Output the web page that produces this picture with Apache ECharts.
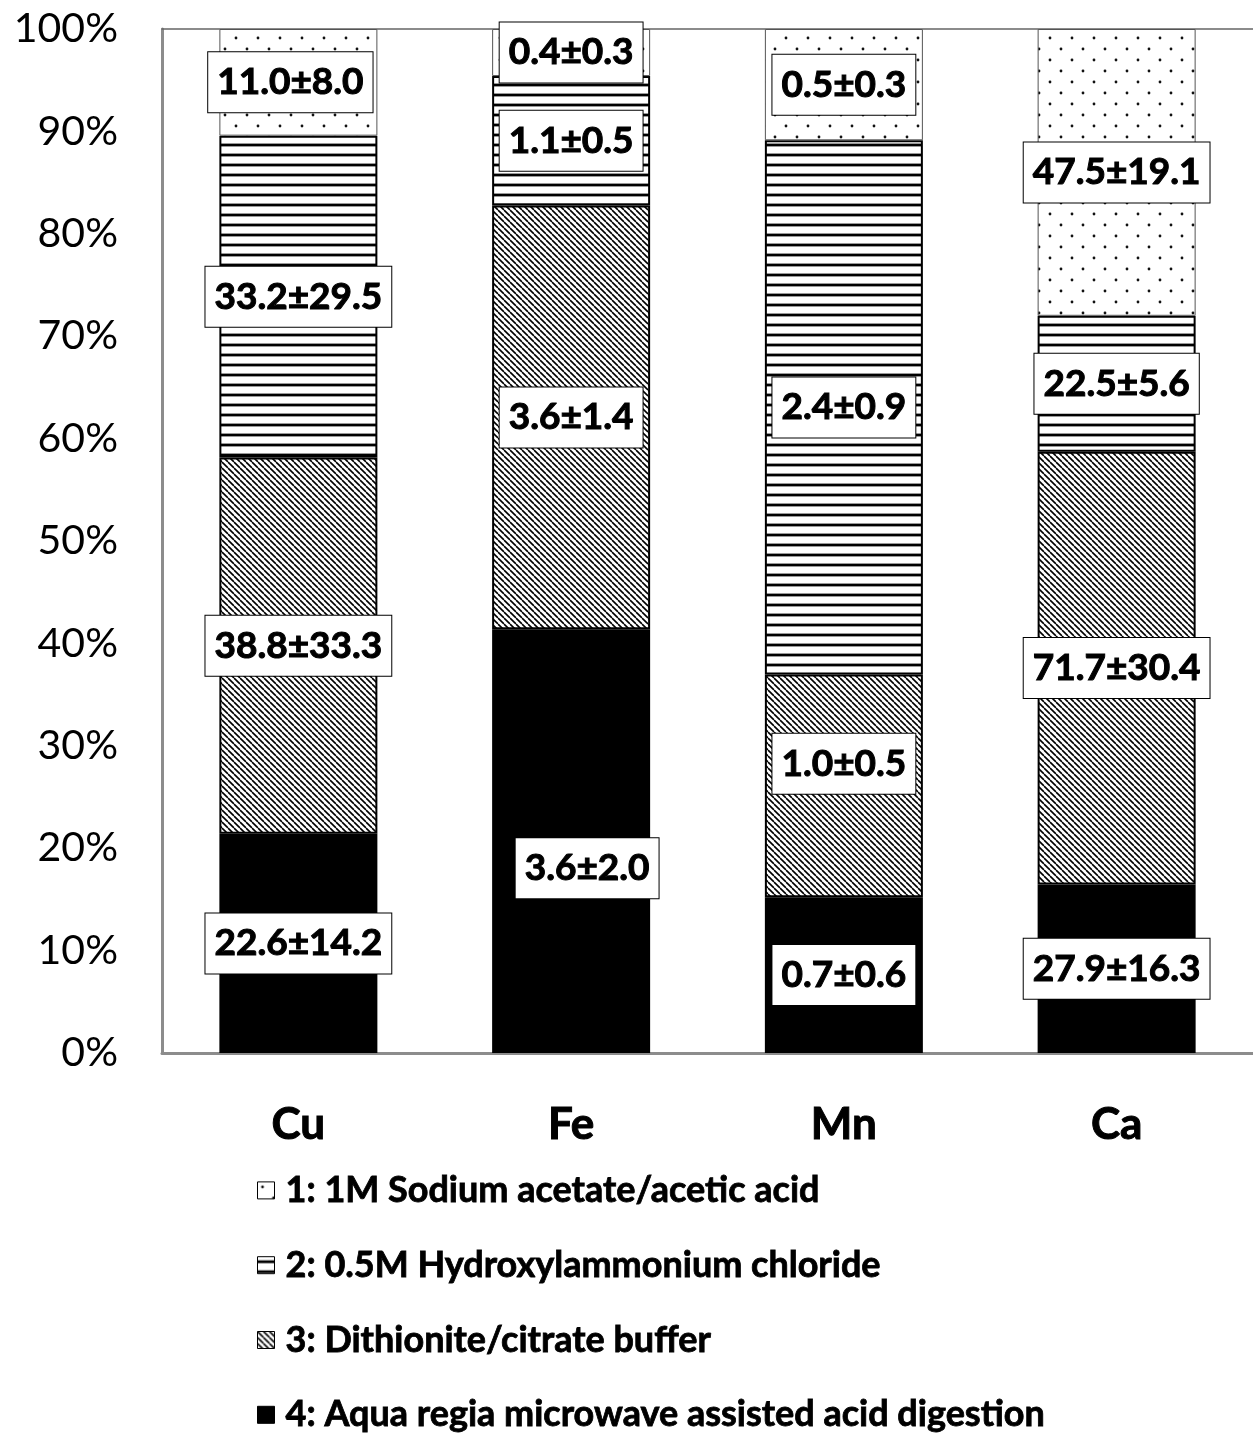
<!DOCTYPE html>
<html>
<head>
<meta charset="utf-8">
<script src="https://cdn.jsdelivr.net/npm/echarts@6/dist/echarts.min.js"></script>
<style>
  html, body { margin: 0; padding: 0; background: #fff; }
  #chart { width: 1253px; height: 1435px; }
</style>
</head>
<body>
<div id="chart"></div>
<script>
// Sequential extraction of metals: mean ± SD per fraction
const elements = ['Cu', 'Fe', 'Mn', 'Ca'];
const fractionNames = [
  '1: 1M Sodium acetate/acetic acid',
  '2: 0.5M Hydroxylammonium chloride',
  '3: Dithionite/citrate buffer',
  '4: Aqua regia microwave assisted acid digestion'
];
const f1Mean = [11.0, 0.4, 0.5, 47.5];
const f1Sd   = [8.0, 0.3, 0.3, 19.1];
const f2Mean = [33.2, 1.1, 2.4, 22.5];
const f2Sd   = [29.5, 0.5, 0.9, 5.6];
const f3Mean = [38.8, 3.6, 1.0, 71.7];
const f3Sd   = [33.3, 1.4, 0.5, 30.4];
const f4Mean = [22.6, 3.6, 0.7, 27.9];
const f4Sd   = [14.2, 2.0, 0.6, 16.3];
const yTicks = [0, 10, 20, 30, 40, 50, 60, 70, 80, 90, 100];

const FONT = 'Lato';

// ---- fill patterns ----
function makeTile(w, h, draw) {
  const c = document.createElement('canvas');
  c.width = w; c.height = h;
  const ctx = c.getContext('2d');
  ctx.fillStyle = '#fff';
  ctx.fillRect(0, 0, w, h);
  draw(ctx);
  return c;
}
const dotTile = makeTile(22, 22, ctx => {
  ctx.fillStyle = '#111';
  ctx.beginPath(); ctx.arc(5, 5, 1.4, 0, Math.PI * 2); ctx.fill();
  ctx.beginPath(); ctx.arc(16, 16, 1.4, 0, Math.PI * 2); ctx.fill();
});
const hLineTile = makeTile(10, 10, ctx => {
  ctx.fillStyle = '#999';
  ctx.fillRect(0, 3, 10, 4);
  ctx.fillStyle = '#000';
  ctx.fillRect(0, 4, 10, 2);
});
const diagTile = makeTile(6, 6, ctx => {
  ctx.strokeStyle = '#000';
  ctx.lineWidth = 1.6;
  for (let x = -6; x <= 12; x += 6) {
    ctx.beginPath(); ctx.moveTo(x - 6, 0); ctx.lineTo(x, 6); ctx.stroke();
  }
});

const fills = [
  { image: dotTile, repeat: 'repeat' },
  { image: hLineTile, repeat: 'repeat' },
  { image: diagTile, repeat: 'repeat' },
  '#000'
];
const borders = [
  { borderColor: '#555', borderWidth: 1 },
  { borderColor: '#000', borderWidth: 2 },
  { borderColor: '#000', borderWidth: 2 },
  { borderColor: '#000', borderWidth: 0 }
];

const means = [f1Mean, f2Mean, f3Mean, f4Mean];
const sds = [f1Sd, f2Sd, f3Sd, f4Sd];
const totals = elements.map((_, i) => means.reduce((s, m) => s + m[i], 0));

// label nudges [fraction][element]
const labelOffsets = {
  '0-0': [-8, 0],
  '3-1': [16, 27],
  '2-2': [0, -22]
};

function buildSeries(k) {
  return {
    name: fractionNames[k],
    type: 'bar',
    stack: 'total',
    barWidth: 158,
    itemStyle: Object.assign({ color: fills[k] }, borders[k]),
    label: {
      show: true,
      position: 'inside',
      fontFamily: FONT,
      fontWeight: 'bold',
      fontSize: 37,
      color: '#000',
      textBorderColor: '#000',
      textBorderWidth: 1,
      backgroundColor: '#fff',
      borderColor: '#000',
      borderWidth: 1,
      padding: [8, 9, 6, 9],
      lineHeight: 46,
      formatter: p => means[k][p.dataIndex].toFixed(1) + '±' + sds[k][p.dataIndex].toFixed(1)
    },
    emphasis: { disabled: true },
    data: elements.map((_, i) => {
      const item = { value: means[k][i] / totals[i] * 100 };
      const off = labelOffsets[k + '-' + i];
      if (off) item.label = { offset: off };
      return item;
    })
  };
}

// draw bottom fraction first so fraction 4 sits at the base
const series = [3, 2, 1, 0].map(buildSeries);

const chart = echarts.init(document.getElementById('chart'), null, { renderer: 'canvas' });
chart.setOption({
  animation: false,
  backgroundColor: '#fff',
  grid: { left: 162, right: -4, top: 29, bottom: 382, containLabel: false },
  legend: {
    orient: 'vertical',
    left: 257,
    top: 1172,
    height: 320,
    padding: 0,
    itemWidth: 17,
    itemHeight: 17,
    itemGap: 38,
    icon: 'rect',
    selectedMode: false,
    data: fractionNames,
    itemStyle: { borderColor: '#000', borderWidth: 1 },
    textStyle: {
      fontFamily: FONT,
      fontWeight: 'bold',
      fontSize: 36,
      color: '#000',
      textBorderColor: '#000',
      textBorderWidth: 0.8,
      padding: [0, 0, 0, 6]
    }
  },
  xAxis: [
    {
      type: 'category',
      data: elements,
      position: 'bottom',
      axisLine: { lineStyle: { color: '#8c8c8c', width: 3 } },
      axisTick: { show: false },
      axisLabel: {
        margin: 50,
        fontFamily: FONT,
        fontWeight: 'bold',
        fontSize: 44,
        color: '#000',
        textBorderColor: '#000',
        textBorderWidth: 1
      }
    },
    {
      type: 'category',
      data: elements,
      position: 'top',
      axisLine: { lineStyle: { color: '#666', width: 1.5 } },
      axisTick: { show: false },
      axisLabel: { show: false }
    }
  ],
  yAxis: {
    type: 'value',
    min: yTicks[0],
    max: yTicks[yTicks.length - 1],
    interval: yTicks[1] - yTicks[0],
    axisLine: { show: true, lineStyle: { color: '#8c8c8c', width: 3 } },
    axisTick: { show: false },
    splitLine: { show: false },
    axisLabel: {
      margin: 44,
      fontFamily: FONT,
      fontSize: 41,
      color: '#000',
      formatter: '{value}%'
    }
  },
  series: series
});
</script>
</body>
</html>
